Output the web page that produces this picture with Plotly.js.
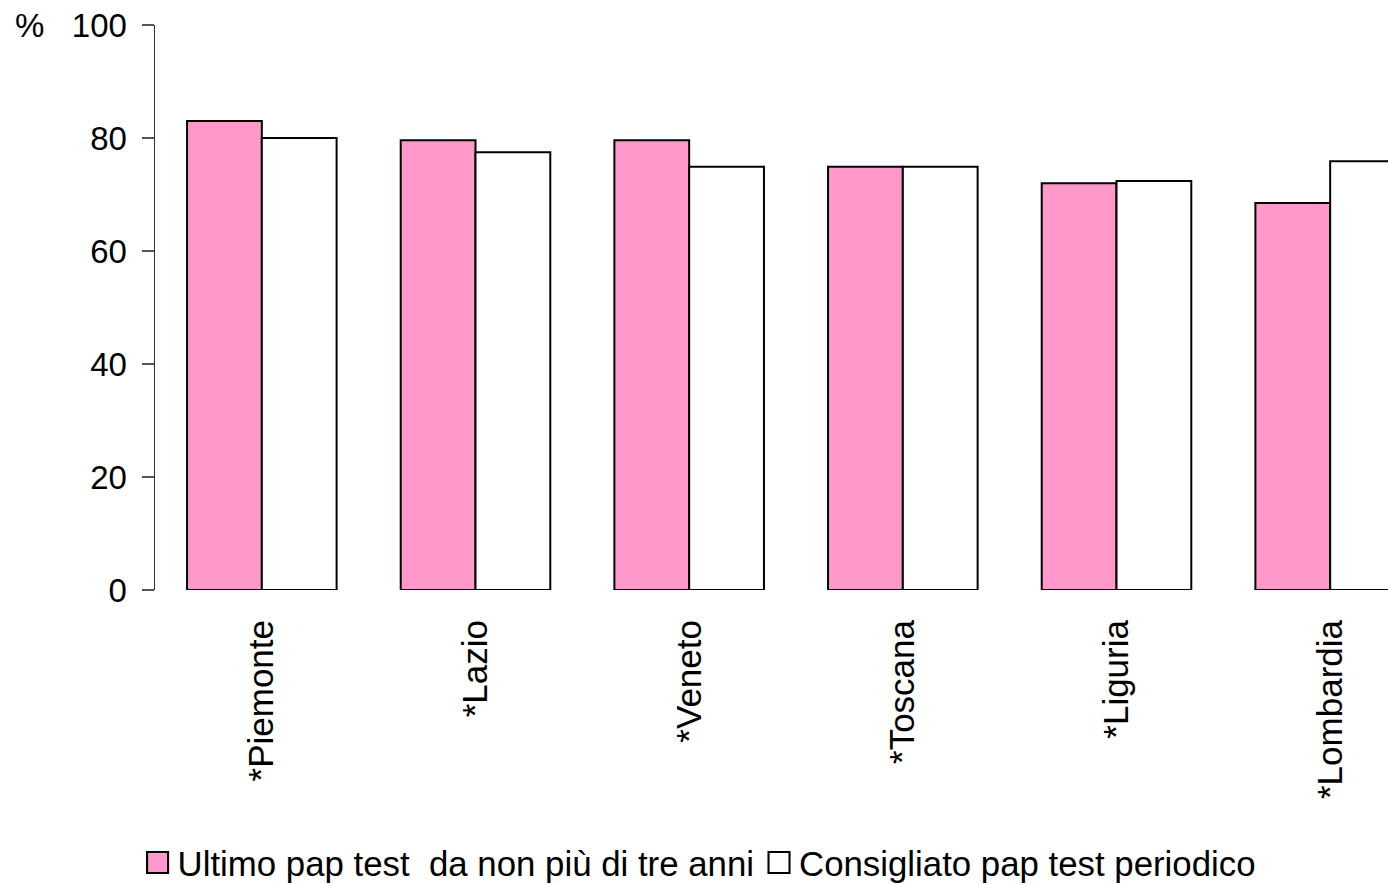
<!DOCTYPE html>
<html>
<head>
<meta charset="utf-8">
<script src="https://cdn.plot.ly/plotly-3.0.1.min.js"></script>
<style>
html,body{margin:0;padding:0;overflow:hidden;background:#fff;}
#chart{width:1450px;height:884px;}
</style>
</head>
<body>
<div id="chart"></div>
<script>
const categories = ["*Piemonte", "*Lazio", "*Veneto", "*Toscana", "*Liguria", "*Lombardia"];
const ultimoPap = [83.0, 79.6, 79.6, 74.9, 72.0, 68.5];
const consigliato = [80.0, 77.5, 74.9, 74.9, 72.4, 75.9];
const seriesNames = ["Ultimo pap test  da non più di tre anni", "Consigliato pap test periodico"];
const yTicks = [0, 20, 40, 60, 80, 100];

const font = "Liberation Sans, Arial, sans-serif";

const traces = [
  {type: "bar", x: categories, y: ultimoPap, name: seriesNames[0],
   marker: {color: "#FF99CC", line: {color: "#000", width: 2}}, hoverinfo: "x+y"},
  {type: "bar", x: categories, y: consigliato, name: seriesNames[1],
   marker: {color: "#FFFFFF", line: {color: "#000", width: 2}}, hoverinfo: "x+y"}
];

const layout = {
  width: 1450, height: 884,
  margin: {l: 155, r: 13, t: 25, b: 294, autoexpand: false},
  paper_bgcolor: "#fff", plot_bgcolor: "#fff",
  barmode: "group", bargap: 0.3, bargroupgap: 0,
  font: {family: font, color: "#000", size: 33},
  showlegend: true,
  legend: {orientation: "h", x: 0.4244, xanchor: "center", y: -0.483, yanchor: "middle",
           font: {family: font, size: 34.8, color: "#000"}, traceorder: "normal"},
  xaxis: {type: "category", range: [-0.5, 5.5], showline: false, showgrid: false, zeroline: false,
          automargin: false,
          ticks: "", tickangle: -90, ticklabelstandoff: 22, tickfont: {family: font, size: 35}},
  yaxis: {range: [0, 100], tickvals: yTicks, ticktext: yTicks.map(String), automargin: false,
          showline: true, linecolor: "#333", linewidth: 1.5, showgrid: false, zeroline: false,
          ticks: "outside", ticklen: 12, tickcolor: "#555", tickwidth: 1.5,
          tickfont: {family: font, size: 33}, ticklabelstandoff: 8},
  annotations: [{text: "%", xref: "paper", yref: "paper", x: -0.098, y: 1, xanchor: "center", yanchor: "middle",
                 showarrow: false, font: {family: font, size: 33, color: "#000"}}]
};

Plotly.newPlot("chart", traces, layout, {displayModeBar: false, staticPlot: true}).then(function(gd){
  gd.querySelectorAll(".legendpoints path").forEach(function(p){
    const old = p.getAttribute("transform") || "";
    p.setAttribute("transform", old + " scale(1.75)");
    p.style.strokeWidth = "1.2px";
  });
});
</script>
</body>
</html>
